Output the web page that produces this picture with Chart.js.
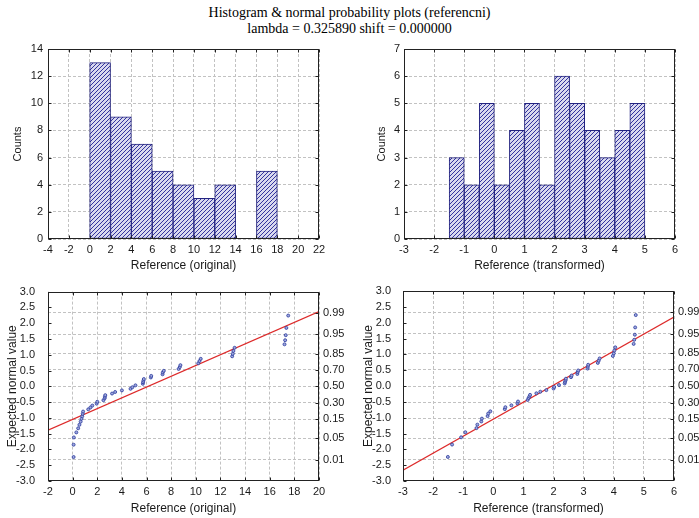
<!DOCTYPE html>
<html>
<head>
<meta charset="utf-8">
<script src="https://cdn.jsdelivr.net/npm/chart.js@4/dist/chart.umd.min.js"></script>
<style>
  html, body { margin: 0; padding: 0; background: #fff; }
  #page { position: relative; width: 699px; height: 518px; overflow: hidden; }
  .title { position: absolute; left: 0; top: 5px; width: 699px; text-align: center;
    font-family: "Liberation Serif", "Times New Roman", serif; font-size: 14px; line-height: 16px; color: #000; }
  canvas { position: absolute; }
</style>
</head>
<body>
<div id="page">
  <div class="title">Histogram &amp; normal probability plots (referencni)<br>lambda = 0.325890 shift = 0.000000</div>
  <canvas id="histOrig" width="345" height="244" style="left:0;top:36px"></canvas>
  <canvas id="histTrans" width="349" height="244" style="left:350px;top:36px"></canvas>
  <canvas id="qqOrig" width="350" height="238" style="left:0;top:280px"></canvas>
  <canvas id="qqTrans" width="349" height="238" style="left:350px;top:280px"></canvas>
</div>
<script>
// histogram bins (bin mid points) and counts
const origBinMid = [1, 3, 5, 7, 9, 11, 13, 15, 17];
const origCounts = [13, 9, 7, 5, 4, 3, 4, 0, 5];
const transBinMid = [-1.25, -0.75, -0.25, 0.25, 0.75, 1.25, 1.75, 2.25, 2.75, 3.25, 3.75, 4.25, 4.75];
const transCounts = [3, 2, 5, 2, 4, 5, 2, 6, 5, 4, 3, 4, 5];

// normal probability plot: expected normal values and sorted observations
const normScores = [-2.24, -1.85, -1.62, -1.46, -1.33, -1.22, -1.12, -1.03, -0.95, -0.87,
  -0.80, -0.73, -0.67, -0.61, -0.55, -0.49, -0.44, -0.38, -0.33, -0.28,
  -0.23, -0.18, -0.13, -0.08, -0.03, 0.03, 0.08, 0.13, 0.18, 0.23,
  0.28, 0.33, 0.38, 0.44, 0.49, 0.55, 0.61, 0.67, 0.73, 0.80,
  0.87, 0.95, 1.03, 1.12, 1.22, 1.33, 1.46, 1.62, 1.85, 2.24];
const origValues = [0.08, 0.08, 0.1, 0.3, 0.45, 0.55, 0.65, 0.72, 0.78, 0.82,
  0.85, 1.27, 1.45, 1.6, 1.95, 2.0, 2.5, 2.6, 2.62, 2.65,
  3.2, 3.45, 4.0, 4.7, 4.85, 5.1, 5.7, 5.72, 5.75, 5.78,
  6.35, 6.38, 7.3, 7.32, 7.4, 8.6, 8.7, 8.75, 10.2, 10.3,
  10.4, 12.95, 13.0, 13.05, 13.15, 17.2, 17.25, 17.3, 17.35, 17.5];
const transValues = [-1.51, -1.37, -1.07, -0.93, -0.56, -0.53, -0.40, -0.38, -0.19, -0.17,
  -0.10, 0.38, 0.40, 0.60, 0.80, 0.82, 1.14, 1.17, 1.20, 1.22,
  1.43, 1.56, 1.76, 2.00, 2.02, 2.18, 2.37, 2.38, 2.40, 2.41,
  2.58, 2.60, 2.79, 2.80, 2.82, 3.13, 3.14, 3.15, 3.47, 3.50,
  3.53, 3.97, 4.00, 4.02, 4.05, 4.66, 4.68, 4.70, 4.71, 4.73];

// fitted lines
const origFitX = [-2, 20];
const origFitY = [-1.39, 2.37];
const transFitX = [-3, 6];
const transFitY = [-2.66, 2.18];

// right hand probability axis
const probLabels = ['0.01', '0.05', '0.15', '0.30', '0.50', '0.70', '0.85', '0.95', '0.99'];
const probZ = [-2.326, -1.645, -1.036, -0.524, 0, 0.524, 1.036, 1.645, 2.326];

Chart.defaults.font.family = '"Liberation Sans", Arial, sans-serif';
Chart.defaults.font.size = 11;
Chart.defaults.color = '#1a1a1a';
Chart.defaults.animation = false;

const navy = '#232380';
const gridColor = '#c2c2c2';

// box round the plot area with short inward tick marks
const frame = {
  id: 'frame',
  afterDatasetsDraw(chart) {
    const {ctx, chartArea: a, scales} = chart;
    const L = Math.round(a.left) + 0.5, T = Math.round(a.top) + 0.5;
    const R = Math.round(a.right) - 0.5, B = Math.round(a.bottom) - 0.5;
    ctx.save();
    ctx.strokeStyle = '#222';
    ctx.lineWidth = 1;
    ctx.strokeRect(L, T, R - L, B - T);
    ctx.beginPath();
    scales.x.ticks.forEach(t => {
      const px = Math.round(scales.x.getPixelForValue(t.value)) + 0.5;
      ctx.moveTo(px, T); ctx.lineTo(px, T + 3);
      ctx.moveTo(px, B); ctx.lineTo(px, B - 3);
    });
    scales.y.ticks.forEach(t => {
      const py = Math.round(scales.y.getPixelForValue(t.value)) + 0.5;
      ctx.moveTo(L, py); ctx.lineTo(L + 3, py);
      if (!scales.y2) { ctx.moveTo(R, py); ctx.lineTo(R - 3, py); }
    });
    if (scales.y2) {
      scales.y2.ticks.forEach(t => {
        const py = Math.round(scales.y2.getPixelForValue(t.value)) + 0.5;
        ctx.moveTo(R, py); ctx.lineTo(R - 3, py);
      });
    }
    ctx.stroke();
    ctx.restore();
  }
};

function hatch() {
  const c = document.createElement('canvas');
  c.width = 4; c.height = 4;
  const g = c.getContext('2d');
  g.fillStyle = '#d9d9ee';
  g.fillRect(0, 0, 4, 4);
  g.strokeStyle = '#33339e';
  g.lineWidth = 1;
  g.beginPath();
  g.moveTo(0, 4); g.lineTo(4, 0);
  g.moveTo(-1, 1); g.lineTo(1, -1);
  g.moveTo(3, 5); g.lineTo(5, 3);
  g.stroke();
  return g.createPattern(c, 'repeat');
}

function histogram(id, mids, counts, x, y, lay) {
  return new Chart(document.getElementById(id), {
    type: 'bar',
    data: {
      datasets: [{
        data: mids.map((m, i) => ({x: m, y: counts[i]})),
        backgroundColor: hatch(),
        borderColor: navy,
        borderWidth: 1,
        borderSkipped: false,
        barPercentage: 1,
        categoryPercentage: 1
      }]
    },
    options: {
      responsive: false,
      layout: {padding: lay.pad},
      plugins: {legend: false, tooltip: {enabled: false}},
      scales: {
        x: {
          type: 'linear', min: x.min, max: x.max, offset: false,
          grid: {color: gridColor, offset: false, drawTicks: false},
          border: {display: false, dash: [3, 2]},
          ticks: {stepSize: x.step, padding: 4, maxRotation: 0, autoSkip: false},
          title: {display: true, text: x.title, font: {size: 12}, padding: {top: 0, bottom: 4}},
          afterFit: s => { s.height = 38; }
        },
        y: {
          min: 0, max: y.max,
          grid: {color: gridColor, drawTicks: false},
          border: {display: false, dash: [3, 2]},
          ticks: {stepSize: y.step, padding: lay.tickPad},
          title: {display: true, text: 'Counts', font: {size: 11}, padding: {top: 3, bottom: 0}},
          afterFit: s => { s.width = lay.yWidth; }
        }
      }
    },
    plugins: [frame]
  });
}

function probPlot(id, xs, fitX, fitY, x, lay) {
  return new Chart(document.getElementById(id), {
    type: 'scatter',
    data: {
      datasets: [{
        data: xs.map((v, i) => ({x: v, y: normScores[i]})),
        pointRadius: 1.5,
        pointBorderWidth: 0.8,
        pointBorderColor: '#2a3a9e',
        pointBackgroundColor: '#a0a8dc'
      }, {
        data: fitX.map((v, i) => ({x: v, y: fitY[i]})),
        showLine: true,
        borderColor: '#dd2a2a',
        borderWidth: 1.2,
        pointRadius: 0
      }]
    },
    options: {
      responsive: false,
      layout: {padding: lay.pad},
      plugins: {legend: false, tooltip: {enabled: false}},
      scales: {
        x: {
          min: x.min, max: x.max,
          grid: {color: gridColor, drawTicks: false},
          border: {display: false, dash: [3, 2]},
          ticks: {stepSize: x.step, padding: 4, maxRotation: 0, autoSkip: false},
          title: {display: true, text: x.title, font: {size: 12}, padding: {top: 0, bottom: 2}},
          afterFit: s => { s.height = 37; }
        },
        y: {
          min: -3, max: 3,
          grid: {display: false},
          border: {display: false},
          ticks: {stepSize: 0.5, padding: lay.tickPad, callback: v => v.toFixed(1), autoSkip: false},
          title: {display: true, text: 'Expected normal value', font: {size: 12}, padding: {top: 2, bottom: 0}},
          afterFit: s => { s.width = lay.yWidth; }
        },
        y2: {
          position: 'right', min: -3, max: 3,
          grid: {color: gridColor, drawTicks: false},
          border: {display: false, dash: [3, 2]},
          afterBuildTicks: s => { s.ticks = probZ.map(v => ({value: v})); },
          ticks: {padding: 4, autoSkip: false, callback: (v, i) => probLabels[i]},
          afterFit: s => { s.width = lay.rWidth; }
        }
      }
    },
    plugins: [frame]
  });
}

histogram('histOrig', origBinMid, origCounts,
  {min: -4, max: 22, step: 2, title: 'Reference (original)'},
  {max: 14, step: 2},
  {pad: {left: 8, top: 13, right: 26, bottom: 3}, yWidth: 40, tickPad: 5});

histogram('histTrans', transBinMid, transCounts,
  {min: -3, max: 6, step: 1, title: 'Reference (transformed)'},
  {max: 7, step: 1},
  {pad: {left: 22, top: 13, right: 24, bottom: 3}, yWidth: 32, tickPad: 4});

probPlot('qqOrig', origValues, origFitX, origFitY,
  {min: -2, max: 20, step: 2, title: 'Reference (original)'},
  {pad: {left: 3, top: 11, right: 1, bottom: 0}, yWidth: 45, rWidth: 30, tickPad: 5});

probPlot('qqTrans', transValues, transFitX, transFitY,
  {min: -3, max: 6, step: 1, title: 'Reference (transformed)'},
  {pad: {left: 9, top: 11, right: 0, bottom: 0}, yWidth: 44, rWidth: 25, tickPad: 4});
</script>
</body>
</html>
